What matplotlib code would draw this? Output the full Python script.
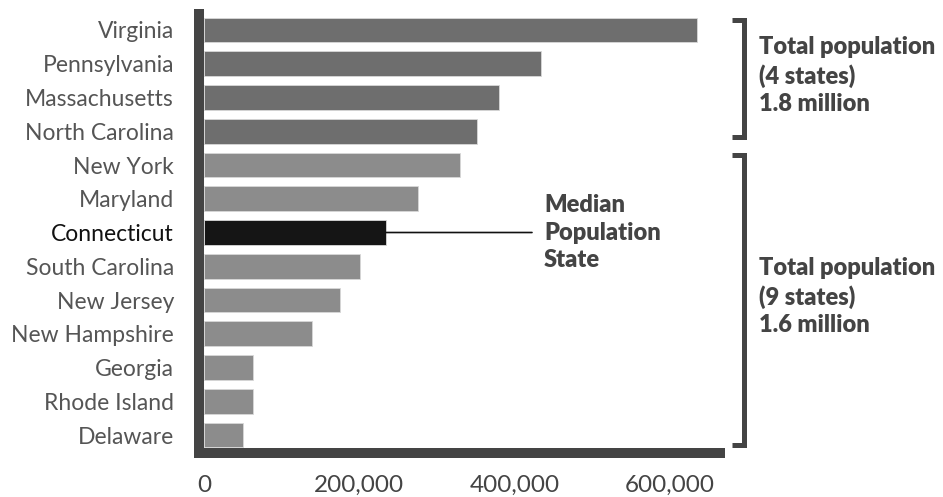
import numpy as np
import matplotlib
matplotlib.use("Agg")
import matplotlib.pyplot as plt
from matplotlib.transforms import blended_transform_factory

# state populations (largest first)
states = ["Virginia", "Pennsylvania", "Massachusetts", "North Carolina", "New York",
          "Maryland", "Connecticut", "South Carolina", "New Jersey", "New Hampshire",
          "Georgia", "Rhode Island", "Delaware"]
population = [635000, 434000, 380000, 352000, 330000, 275000, 234000,
              201000, 175000, 139000, 63000, 63000, 50000]
xticks = [0, 200000, 400000, 600000]
xtick_labels = ["0", "200,000", "400,000", "600,000"]

median_state = "Connecticut"
top_group = 4   # first 4 states in the top bracket
top_note = "Total population\n(4 states)\n1.8 million"
bottom_note = "Total population\n(9 states)\n1.6 million"
median_note = "Median\nPopulation\nState"

plt.rcParams['font.family'] = ['Lato', 'DejaVu Sans']

W, H = 943, 497
fig = plt.figure(figsize=(W / 100, H / 100), dpi=100)
ax = fig.add_axes([199 / W, (H - 453) / H, (720 - 199) / W, (453 - 14) / H])

colors = []
for i, s in enumerate(states):
    if s == median_state:
        colors.append("#151515")
    elif i < top_group:
        colors.append("#6e6e6e")
    else:
        colors.append("#8c8c8c")

y = np.arange(len(states))
ax.barh(y, population, height=0.73, color=colors, edgecolor="#d8d8d8", linewidth=0.6, zorder=2)

ax.set_xlim(-6440, 664400)
ax.set_ylim(len(states) - 1 + 0.533, -0.474)

for side in ["top", "right"]:
    ax.spines[side].set_visible(False)
for side in ["left", "bottom"]:
    ax.spines[side].set_linewidth(7.2)
    ax.spines[side].set_color("#444444")
    ax.spines[side].set_capstyle("projecting")
    ax.spines[side].set_zorder(3)

ax.set_yticks(y)
ax.set_yticklabels(states, fontsize=16.5, color="#555555")
for lbl in ax.get_yticklabels():
    if lbl.get_text() == median_state:
        lbl.set_color("#111111")
ax.tick_params(axis="y", length=0, pad=18)

ax.set_xticks(xticks)
ax.set_xticklabels(xtick_labels, fontsize=17.5, color="#444444")
ax.tick_params(axis="x", length=0, pad=16)

# brackets on the right
tr = blended_transform_factory(fig.transFigure, ax.transData)
bx0, bx1 = 732 / W, 744 / W
for r0, r1 in [(-0.3, top_group - 1 + 0.18), (top_group - 0.3, len(states) - 1 + 0.3)]:
    ax.plot([bx0, bx1, bx1, bx0], [r0, r0, r1, r1], color="#444444", lw=3.6,
            transform=tr, clip_on=False, solid_joinstyle="miter", solid_capstyle="butt")

tx = 759 / W
ax.text(tx, 1.35, top_note, transform=tr, fontsize=17, fontweight="heavy",
        color="#444444", va="center", ha="left", linespacing=1.3)
ax.text(tx, 7.9, bottom_note, transform=tr, fontsize=17, fontweight="heavy",
        color="#444444", va="center", ha="left", linespacing=1.3)

# median leader line and note
mi = states.index(median_state)
ax.annotate("", xy=(population[mi], mi), xytext=(532 / W, mi),
            xycoords="data", textcoords=tr,
            arrowprops=dict(arrowstyle="-", color="#111111", lw=1.2, shrinkA=0, shrinkB=0))
ax.text(544 / W, mi, median_note, transform=tr, fontsize=17, fontweight="heavy",
        color="#444444", va="center", ha="left", linespacing=1.3)

fig.savefig("out.png", dpi=100)
